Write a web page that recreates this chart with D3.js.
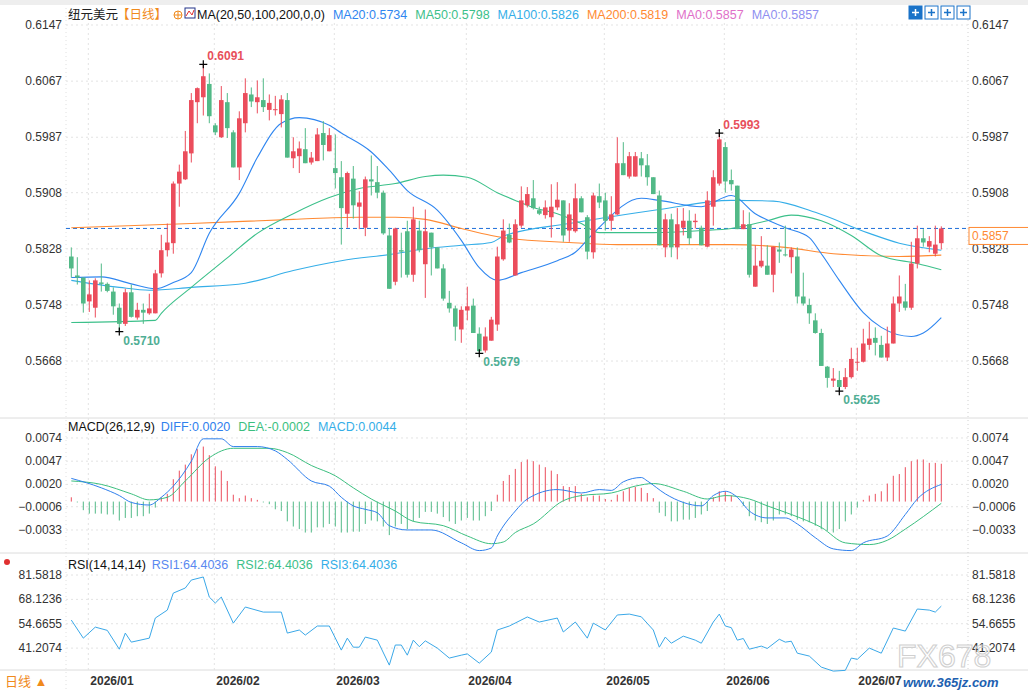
<!DOCTYPE html>
<html><head><meta charset="utf-8">
<script src="https://cdn.jsdelivr.net/npm/d3@7"></script>
<style>
body{margin:0;background:#fff;}
text{font-family:"Liberation Sans",Arial,"Noto Sans CJK SC",sans-serif;}
</style></head>
<body><svg id="chart" width="1028" height="690"></svg>
<script>
// daily candles, NZD/USD
var opens = [.5817,.5790,.5787,.5753,.5744,.5780,.5778,.5767,.5744,.5721,.5766,.5730,.5741,.5736,.5736,.5793,.5826,.5836,.5921,.5927,
  .5964,.6037,.6044,.6063,.6004,.5987,.6037,.5994,.5944,.6007,.6048,.6037,.6040,.6026,.6026,.6020,.6040,.5957,.5960,.5970,
  .5951,.5953,.5993,.5967,.5943,.5930,.5878,.5928,.5888,.5858,.5927,.5923,.5908,.5847,.5781,.5826,.5853,.5791,.5854,.5806,
  .5851,.5830,.5800,.5751,.5743,.5713,.5740,.5747,.5707,.5683,.5697,.5720,.5813,.5848,.5790,.5861,.5890,.5900,.5883,.5876,
  .5873,.5887,.5897,.5854,.5853,.5900,.5873,.5823,.5903,.5897,.5868,.5877,.5950,.5931,.5931,.5957,.5947,.5930,.5904,.5830,
  .5870,.5830,.5858,.5868,.5866,.5858,.5831,.5888,.5921,.5973,.5926,.5918,.5856,.5863,.5774,.5803,.5804,.5791,.5827,.5820,
  .5816,.5817,.5760,.5748,.5726,.5708,.5660,.5640,.5641,.5631,.5645,.5666,.5667,.5691,.5701,.5691,.5673,.5693,.5750,.5753,
  .5744,.5807,.5843,.5831,.5821,.5836];
var highs = [.5830,.5816,.5787,.5783,.5786,.5807,.5780,.5773,.5750,.5771,.5777,.5751,.5750,.5764,.5798,.5848,.5864,.5924,.5948,.5996,
  .6050,.6058,.6091,.6078,.6007,.6060,.6050,.5997,.6024,.6071,.6058,.6068,.6071,.6048,.6046,.6047,.6050,.5987,.5981,.6000,
  .5966,.6000,.6010,.6000,.5991,.5953,.5938,.5946,.5910,.5931,.5961,.5946,.5911,.5858,.5858,.5851,.5868,.5888,.5868,.5884,
  .5851,.5830,.5806,.5768,.5747,.5746,.5774,.5757,.5716,.5716,.5731,.5831,.5870,.5864,.5870,.5917,.5916,.5926,.5888,.5897,
  .5920,.5923,.5897,.5893,.5921,.5903,.5876,.5908,.5921,.5908,.5903,.5987,.5980,.5966,.5966,.5966,.5963,.5930,.5911,.5878,
  .5878,.5886,.5886,.5883,.5878,.5861,.5910,.5940,.5993,.5980,.5941,.5918,.5883,.5880,.5833,.5846,.5833,.5831,.5837,.5861,
  .5830,.5830,.5794,.5757,.5736,.5714,.5661,.5658,.5654,.5658,.5687,.5687,.5714,.5724,.5716,.5704,.5717,.5760,.5790,.5778,
  .5838,.5861,.5856,.5846,.5861,.5860];
var lows = [.5787,.5777,.5737,.5738,.5730,.5767,.5766,.5734,.5710,.5718,.5730,.5727,.5721,.5734,.5736,.5787,.5817,.5821,.5888,.5926,
  .5951,.6007,.6018,.6007,.5990,.5986,.5986,.5944,.5926,.5994,.6030,.6021,.6023,.6011,.6018,.6001,.5958,.5943,.5936,.5950,
  .5948,.5953,.5954,.5967,.5914,.5834,.5858,.5871,.5856,.5846,.5904,.5900,.5848,.5771,.5776,.5787,.5787,.5781,.5823,.5758,
  .5790,.5800,.5754,.5737,.5697,.5694,.5726,.5708,.5679,.5680,.5697,.5711,.5811,.5836,.5790,.5858,.5887,.5884,.5876,.5871,
  .5844,.5883,.5838,.5838,.5851,.5880,.5813,.5814,.5886,.5854,.5854,.5876,.5933,.5928,.5931,.5931,.5918,.5906,.5833,.5816,
  .5816,.5813,.5847,.5834,.5857,.5833,.5830,.5861,.5918,.5908,.5911,.5856,.5856,.5787,.5774,.5801,.5791,.5766,.5808,.5817,
  .5793,.5750,.5747,.5721,.5707,.5661,.5630,.5631,.5625,.5628,.5643,.5654,.5666,.5684,.5676,.5673,.5668,.5693,.5738,.5740,
  .5741,.5800,.5831,.5823,.5817,.5827];
var closes = [.5800,.5787,.5750,.5763,.5783,.5778,.5768,.5746,.5721,.5766,.5731,.5741,.5737,.5743,.5793,.5826,.5837,.5921,.5938,.5967,
  .6040,.6057,.6074,.6017,.5994,.6040,.6000,.5944,.6014,.6050,.6038,.6044,.6030,.6036,.6027,.6041,.5958,.5967,.5971,.5950,
  .5958,.5991,.5976,.5990,.5936,.5886,.5936,.5890,.5894,.5927,.5924,.5908,.5850,.5771,.5857,.5824,.5791,.5870,.5826,.5853,
  .5830,.5800,.5757,.5743,.5717,.5741,.5746,.5708,.5682,.5703,.5727,.5817,.5854,.5837,.5863,.5897,.5906,.5886,.5878,.5887,
  .5888,.5898,.5847,.5877,.5900,.5880,.5824,.5904,.5894,.5868,.5877,.5950,.5933,.5960,.5960,.5947,.5930,.5906,.5833,.5870,
  .5830,.5863,.5868,.5843,.5868,.5833,.5897,.5930,.5984,.5924,.5920,.5856,.5863,.5791,.5804,.5811,.5791,.5831,.5824,.5819,
  .5827,.5760,.5750,.5736,.5708,.5661,.5644,.5643,.5631,.5645,.5671,.5667,.5693,.5700,.5694,.5673,.5693,.5750,.5760,.5744,
  .5807,.5843,.5837,.5839,.5834,.5857];

// moving averages: [candle index, value]
var ma20 = [[0,.5787],[5,.5788],[10,.5778],[14,.5771],[17,.5780],[20,.5794],[23,.5850],[28,.5907],[31,.5958],[35,.6007],[38,.6015],[43,.6004],[45,.5993],[50,.5966],[53,.5940],[56,.5911],[61,.5883],[65,.5840],[68,.5801],[71,.5783],[75,.5794],[81,.5811],[84,.5823],[87,.5850],[95,.5900],[98,.5897],[105,.5888],[110,.5904],[114,.5878],[119,.5858],[123,.5844],[125,.5821],[128,.5783],[132,.5737],[135,.5716],[140,.5703],[142,.5708],[145,.5730]];
var ma50 = [[0,.5723],[14,.5726],[15,.5736],[20,.5773],[26,.5815],[31,.5850],[37,.5878],[43,.5901],[48,.5914],[54,.5921],[59,.5931],[62,.5933],[66,.5930],[71,.5908],[74,.5897],[77,.5887],[81,.5878],[85,.5864],[88,.5851],[97,.5851],[105,.5854],[110,.5857],[116,.5868],[120,.5876],[125,.5868],[130,.5847],[135,.5818],[141,.5807],[145,.5798]];
var ma100 = [[0,.5783],[8,.5773],[13,.5769],[20,.5773],[29,.5779],[37,.5797],[45,.5811],[54,.5821],[59,.5828],[65,.5833],[70,.5837],[72,.5846],[83,.5864],[94,.5879],[98,.5884],[110,.5897],[117,.5896],[124,.5880],[133,.5850],[138,.5836],[145,.5826]];
var ma200 = [[0,.5858],[20,.5864],[37,.5870],[48,.5873],[54,.5873],[59,.5870],[65,.5857],[70,.5847],[72,.5844],[83,.5837],[91,.5834],[110,.5834],[119,.5830],[127,.5821],[138,.5817],[145,.5819]];

var macdHist = [.0005,-.0001,-.0010,-.0014,-.0014,-.0014,-.0015,-.0015,-.0022,-.0019,-.0019,-.0017,-.0017,-.0014,-.0007,.0005,.0009,.0026,.0036,.0043,
  .0055,.0061,.0064,.0054,.0041,.0036,.0024,.0008,.0004,.0007,.0004,.0002,-.0001,-.0003,-.0009,-.0011,-.0023,-.0029,-.0032,-.0036,
  -.0036,-.0030,-.0030,-.0026,-.0029,-.0036,-.0036,-.0035,-.0035,-.0026,-.0022,-.0023,-.0029,-.0039,-.0029,-.0026,-.0032,-.0023,-.0019,-.0012,
  -.0012,-.0014,-.0018,-.0023,-.0026,-.0022,-.0019,-.0022,-.0022,-.0017,-.0011,.0008,.0024,.0031,.0038,.0046,.0049,.0047,.0043,.0040,
  .0036,.0032,.0018,.0017,.0018,.0009,.0005,.0007,.0007,.0003,.0002,.0008,.0012,.0016,.0017,.0016,.0010,.0004,-.0013,-.0017,
  -.0023,-.0023,-.0021,-.0021,-.0019,-.0015,-.0011,.0005,.0012,.0012,.0007,.0000,-.0005,-.0017,-.0022,-.0024,-.0026,-.0022,-.0015,-.0015,
  -.0017,-.0021,-.0023,-.0024,-.0028,-.0032,-.0034,-.0036,-.0032,-.0023,-.0015,-.0007,.0002,.0007,.0009,.0012,.0021,.0030,.0032,.0040,
  .0047,.0049,.0049,.0045,.0045,.0044];
var diffPts = [[0,.0027],[5,.0016],[8,.0007],[10,-.0001],[13,-.0004],[15,.0005],[17,.0018],[20,.0047],[22,.0073],[25,.0073],[27,.0064],[31,.0064],[34,.0059],[36,.0049],[40,.0024],[43,.0018],[45,.0005],[47,-.0005],[49,-.0009],[51,-.0013],[53,-.0028],[56,-.0033],[60,-.0033],[65,-.0048],[68,-.0057],[70,-.0054],[71,-.0040],[74,-.0011],[76,.0003],[81,.0014],[85,.0010],[88,.0014],[90,.0013],[92,.0023],[95,.0028],[96,.0024],[99,.0009],[102,-.0001],[105,-.0005],[107,.0007],[109,.0012],[111,.0005],[113,-.0011],[116,-.0019],[119,-.0019],[121,-.0026],[124,-.0042],[127,-.0055],[130,-.0057],[132,-.0048],[136,-.0040],[139,-.0015],[141,.0003],[145,.0020]];
var deaPts = [[0,.0024],[5,.0020],[10,.0009],[13,.0002],[16,.0005],[19,.0024],[23,.0051],[27,.0062],[33,.0062],[36,.0057],[40,.0042],[44,.0030],[47,.0016],[50,.0003],[54,-.0011],[57,-.0023],[62,-.0028],[66,-.0040],[70,-.0049],[72,-.0047],[74,-.0036],[77,-.0026],[82,.0001],[85,.0007],[90,.0010],[94,.0018],[97,.0021],[102,.0012],[106,.0003],[109,.0007],[113,.0003],[116,-.0005],[120,-.0015],[125,-.0030],[129,-.0048],[133,-.0050],[136,-.0045],[139,-.0032],[145,-.0002]];

var rsiIdx = [0,2,4,6,8,9,10,13,14,16,17,19,20,22,23,24,25,27,29,32,35,36,38,39,41,43,45,46,47,48,49,51,53,54,55,56,57,58,59,61,
  63,65,66,68,70,71,73,76,78,81,82,84,85,86,87,89,91,93,95,97,98,99,100,102,104,105,107,108,109,110,111,112,113,115,116,118,119,120,121,123,
  125,127,129,130,131,133,135,137,139,141,143,144,145];
var rsiVal = [56.7,46.7,52.8,51,40.6,49.5,44.5,46.7,57.8,62.2,71.6,74.4,78.8,80.5,69.4,66.1,69.4,55.0,63.9,61.1,
  61.1,49.5,51.2,48.4,53.4,53.4,40.1,46.7,41.7,41.7,47.3,45.6,31.8,42.9,42.9,37.3,45.6,42,45.2,41.2,
  35.7,37.3,38,32.9,39.0,51.2,53.4,58.4,55.6,57.8,50.1,55.6,51.2,46.7,55.0,51.2,59.5,60.0,58.5,51.2,
  41.7,47.3,43.9,47.8,45.6,43.9,55.6,60.0,53.4,52.5,45.6,46.5,40.6,42.3,41,46.1,44.5,45,38.4,36.8,
  30.7,28.5,28.9,35.7,35,41.2,38.4,52.3,50.6,62.8,62.2,61.1,64.4];

var priceTicks = [0.6147,0.6067,0.5987,0.5908,0.5828,0.5748,0.5668];
var macdTicks = [0.0074,0.0047,0.0020,-0.0006,-0.0033];
var rsiTicks = [81.5818,68.1236,54.6655,41.2074];
var monthIdx = [3,24,44,66,89,109,131];
var monthLabels = ["2026/01","2026/02","2026/03","2026/04","2026/05","2026/06","2026/07"];
var lastPrice = 0.5857;
var marks = [{i:22,v:.6091,hi:true},{i:8,v:.5710,hi:false},{i:68,v:.5679,hi:false},{i:108,v:.5993,hi:true},{i:128,v:.5625,hi:false}];

var UP = "#eb4d5c", DOWN = "#52b987", GRID = "#e3e3e3";
var svg = d3.select("#chart");
var L = 66, R = 968;

var x = d3.scaleLinear().domain([0, 145]).range([71.3, 941.3]);
var y = d3.scaleLinear().domain([0.55868, 0.6157]).range([418, 18]);
var ym = d3.scaleLinear().domain([-0.00598, 0.00949]).range([553, 420]);
var yr = d3.scaleLinear().domain([28.0, 92.64]).range([672, 555]);

// frame
svg.append("rect").attr("x", 0).attr("y", 0).attr("width", 1028).attr("height", 5).attr("fill", "#eeeeee");
[418, 553, 670].forEach(function (yy) {
    svg.append("line").attr("x1", 0).attr("x2", 1028).attr("y1", yy).attr("y2", yy).attr("stroke", "#dcdcdc");
});
svg.append("line").attr("x1", L).attr("x2", L).attr("y1", 8).attr("y2", 690).attr("stroke", "#e0e0e0").attr("stroke-dasharray", "1,3");
svg.append("line").attr("x1", R).attr("x2", R).attr("y1", 8).attr("y2", 670).attr("stroke", "#d0d0d0").attr("stroke-dasharray", "1,3");

function hgrid(scale, ticks, fmt) {
    ticks.forEach(function (t) {
        var yy = scale(t);
        svg.append("line").attr("x1", L).attr("x2", R).attr("y1", yy).attr("y2", yy)
            .attr("stroke", GRID).attr("stroke-dasharray", "2,3");
        svg.append("text").attr("x", 62).attr("y", yy + 4).attr("text-anchor", "end")
            .attr("font-size", 12).attr("fill", "#333").text(fmt(t));
        svg.append("text").attr("x", 972).attr("y", yy + 4)
            .attr("font-size", 12).attr("fill", "#333").text(fmt(t));
    });
}
hgrid(y, priceTicks, d3.format(".4f"));
hgrid(ym, macdTicks, d3.format(".4f"));
hgrid(yr, rsiTicks, d3.format(".4f"));

// month grid + labels
monthIdx.forEach(function (m, k) {
    var xx = x(m) - 1;
    svg.append("line").attr("x1", xx).attr("x2", xx).attr("y1", 18).attr("y2", 670)
        .attr("stroke", GRID).attr("stroke-dasharray", "2,3");
    svg.append("text").attr("x", xx + 2).attr("y", 685).attr("font-size", 12)
        .attr("font-weight", "bold").attr("fill", "#333").text(monthLabels[k]);
});

// last price dashed line
svg.append("line").attr("x1", L).attr("x2", R).attr("y1", y(lastPrice)).attr("y2", y(lastPrice))
    .attr("stroke", "#1e6fd9").attr("stroke-dasharray", "4,3");

// MA lines
var maLine = d3.line().x(function (d) { return x(d[0]); }).y(function (d) { return y(d[1]); }).curve(d3.curveMonotoneX);
[[ma200, "#ff8a33"], [ma100, "#35aee8"], [ma50, "#3cc08a"], [ma20, "#2f86f0"]].forEach(function (p) {
    svg.append("path").datum(p[0]).attr("d", maLine).attr("fill", "none").attr("stroke", p[1]).attr("stroke-width", 1.1);
});

// candles
var candles = opens.map(function (o, i) { return {i: i, o: o, h: highs[i], l: lows[i], c: closes[i]}; });
var cg = svg.append("g");
cg.selectAll("line.wick").data(candles).enter().append("line")
    .attr("x1", function (d) { return x(d.i); }).attr("x2", function (d) { return x(d.i); })
    .attr("y1", function (d) { return y(d.h); }).attr("y2", function (d) { return y(d.l); })
    .attr("stroke", function (d) { return d.c >= d.o ? UP : DOWN; }).attr("stroke-width", 1);
cg.selectAll("rect").data(candles).enter().append("rect")
    .attr("x", function (d) { return x(d.i) - 2.3; }).attr("width", 4.6)
    .attr("y", function (d) { return y(Math.max(d.o, d.c)); })
    .attr("height", function (d) { return Math.max(1, Math.abs(y(d.o) - y(d.c))); })
    .attr("fill", function (d) { return d.c >= d.o ? UP : DOWN; });

// high / low marks
marks.forEach(function (m) {
    var px = x(m.i), py = y(m.v);
    svg.append("path").attr("d", "M" + (px - 4) + "," + py + "H" + (px + 4) + "M" + px + "," + (py - 4) + "V" + (py + 4))
        .attr("stroke", "#000").attr("stroke-width", 1.2);
    svg.append("text").attr("x", px + 4).attr("y", m.hi ? py - 4 : py + 13).attr("font-size", 12).attr("font-weight", "bold")
        .attr("fill", m.hi ? "#e8505b" : "#4fae94").text(d3.format(".4f")(m.v));
});

// last price tag
svg.append("rect").attr("x", 969).attr("y", y(lastPrice) - 1).attr("width", 62).attr("height", 17)
    .attr("fill", "#fff").attr("stroke", "#ff8a33");
svg.append("text").attr("x", 972).attr("y", y(lastPrice) + 12).attr("font-size", 12).attr("fill", "#ff8a33").text("0.5857");

// MACD
svg.selectAll("line.hist").data(macdHist).enter().append("line")
    .attr("x1", function (d, i) { return x(i); }).attr("x2", function (d, i) { return x(i); })
    .attr("y1", ym(0)).attr("y2", function (d) { return ym(d); })
    .attr("stroke", function (d) { return d >= 0 ? UP : DOWN; }).attr("stroke-width", 1);
var mLine = d3.line().x(function (d) { return x(d[0]); }).y(function (d) { return ym(d[1]); }).curve(d3.curveMonotoneX);
svg.append("path").datum(deaPts).attr("d", mLine).attr("fill", "none").attr("stroke", "#3cbf7f").attr("stroke-width", 1);
svg.append("path").datum(diffPts).attr("d", mLine).attr("fill", "none").attr("stroke", "#2f80ed").attr("stroke-width", 1);

// RSI
var rLine = d3.line().x(function (d) { return x(d); }).y(function (d, k) { return yr(rsiVal[k]); });
svg.append("path").datum(rsiIdx).attr("d", rLine).attr("fill", "none").attr("stroke", "#3aa8e8").attr("stroke-width", 1);

// legends
function legend(yy, items) {
    var t = svg.append("text").attr("x", 68).attr("y", yy).attr("font-size", 12.5);
    items.forEach(function (it) {
        t.append("tspan").attr("fill", it[1]).attr("dx", it[2] || 0).text(it[0]);
    });
}
svg.append("text").attr("x", 68).attr("y", 19).attr("font-size", 12.5).attr("fill", "#222")
    .attr("font-family", "Noto Sans CJK SC").text("纽元美元");
svg.append("text").attr("x", 117).attr("y", 19).attr("font-size", 12.5).attr("fill", "#f08a1c")
    .attr("font-family", "Noto Sans CJK SC").text("【日线】");
svg.append("circle").attr("cx", 178).attr("cy", 15).attr("r", 4).attr("fill", "none").attr("stroke", "#f08a1c");
svg.append("path").attr("d", "M174,15H182M178,11V19").attr("stroke", "#f08a1c");
svg.append("rect").attr("x", 185).attr("y", 8).attr("width", 10).attr("height", 10).attr("fill", "#fff").attr("stroke", "#223388");
svg.append("path").attr("d", "M186,16L189,11L192,15L194,10").attr("stroke", "#e03030").attr("fill", "none");
var t1 = svg.append("text").attr("x", 197).attr("y", 19).attr("font-size", 12.5);
[["MA(20,50,100,200,0,0)", "#111"], ["MA20:0.5734", "#2f86f0"], ["MA50:0.5798", "#3cc08a"], ["MA100:0.5826", "#35aee8"],
 ["MA200:0.5819", "#ff8a33"], ["MA0:0.5857", "#e070c8"], ["MA0:0.5857", "#8f8ff0"]].forEach(function (it, k) {
    t1.append("tspan").attr("fill", it[1]).attr("dx", k ? 8 : 0).text(it[0]);
});
legend(431, [["MACD(26,12,9)", "#111"], ["DIFF:0.0020", "#2f80ed", 6], ["DEA:-0.0002", "#3cbf7f", 8], ["MACD:0.0044", "#35aee8", 8]]);
legend(569, [["RSI(14,14,14)", "#111"], ["RSI1:64.4036", "#5a88f0", 6], ["RSI2:64.4036", "#3cc08a", 8], ["RSI3:64.4036", "#35aee8", 8]]);
svg.append("circle").attr("cx", 7).attr("cy", 562).attr("r", 3).attr("fill", "#e03030");

// toolbar icons
[909, 925, 941, 957].forEach(function (ix, k) {
    svg.append("rect").attr("x", ix).attr("y", 6).attr("width", 13).attr("height", 13)
        .attr("fill", k ? "#fff" : "#1a73c8").attr("stroke", "#1a73c8");
    svg.append("path").attr("d", "M" + (ix + 3) + "," + 12.5 + "H" + (ix + 10) + "M" + (ix + 6.5) + ",9V16")
        .attr("stroke", k ? "#1a73c8" : "#fff").attr("stroke-width", 1.5);
});

// bottom left + watermark
svg.append("text").attr("x", 5).attr("y", 686).attr("font-size", 13).attr("fill", "#f08a1c")
    .attr("font-family", "Noto Sans CJK SC").text("日线 ▲");
svg.append("text").attr("x", 897).attr("y", 667).attr("font-size", 32).attr("fill", "none")
    .attr("stroke", "#d0d0d0").attr("stroke-width", 1.1).attr("font-family", "DejaVu Sans").text("FX678");
svg.append("text").attr("x", 903).attr("y", 687).attr("font-size", 13).attr("fill", "#2060b0")
    .attr("font-style", "italic").attr("font-weight", "bold").text("www.365jz.com");
</script></body></html>
